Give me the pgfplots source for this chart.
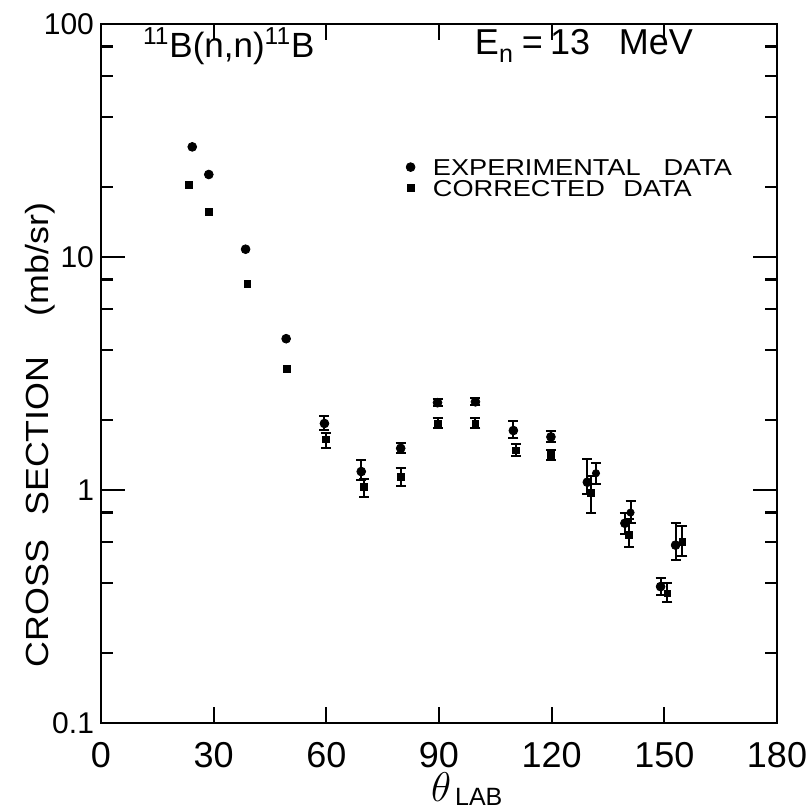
\documentclass[border=0pt]{standalone}
\usepackage{fontspec}
\setmainfont{Liberation Sans}
\newfontfamily\wide[FakeStretch=1.18]{Liberation Sans}
\newfontfamily\wideb[FakeStretch=1.12]{Liberation Sans}
\usepackage{pgfplots}
\usepackage{pgfplotstable}
\pgfplotsset{compat=1.18}

\pgfplotstableread{
x y
24.3 29.7
28.7 22.6
38.5 10.8
49.3 4.46
}\expfwd
\pgfplotstableread{
x y
23.5 20.4
28.8 15.6
39.0 7.66
49.5 3.32
}\corfwd
\pgfplotstableread{
x y ep em
59.5 1.93 0.15 0.12
69.3 1.20 0.15 0.10
79.8 1.51 0.08 0.07
89.6 2.37 0.10 0.08
99.7 2.39 0.10 0.08
109.8 1.80 0.17 0.13
119.8 1.69 0.10 0.08
129.5 1.08 0.28 0.12
139.5 0.72 0.08 0.07
149.0 0.385 0.035 0.03
153.0 0.58 0.14 0.08
}\expbwd
\pgfplotstableread{
x y ep em
59.8 1.65 0.10 0.13
70.0 1.03 0.08 0.10
79.8 1.14 0.10 0.10
89.6 1.93 0.10 0.09
99.7 1.93 0.10 0.09
110.5 1.48 0.10 0.08
119.8 1.41 0.07 0.06
130.5 0.97 0.18 0.17
140.5 0.64 0.11 0.07
150.8 0.36 0.04 0.03
154.8 0.60 0.10 0.08
}\corbwd
\pgfplotstableread{
x y ep em
131.8 1.18 0.12 0.12
141.0 0.80 0.10 0.08
}\extra

\begin{document}
\begin{tikzpicture}
\useasboundingbox (0,0) rectangle (403.5pt,404.5pt);
\begin{axis}[
  at={(50.5pt,43pt)}, anchor=south west,
  scale only axis, width=338pt, height=349.5pt,
  xmin=0, xmax=180, ymode=log, ymin=0.1, ymax=100,
  xtick={0,30,...,180},
  ytick={0.1,1,10,100}, yticklabels={0.1,1,10,100},
  minor ytick={0.2,0.4,0.6,0.8,2,4,6,8,20,40,60,80},
  tick align=inside,
  axis line style={line width=1.3pt},
  every tick/.style={black, line width=1.1pt},
  xtick style={/pgfplots/major tick length=8pt},
  ytick style={/pgfplots/major tick length=12pt, /pgfplots/minor tick length=6pt},
  /pgf/number format/assume math mode=true,
  xticklabel style={font=\fontsize{18}{18}\selectfont, inner sep=0.5pt, yshift=-9pt},
  yticklabel style={font=\fontsize{15}{15}\selectfont},
  xlabel={$\theta$\hspace{2pt}\raisebox{-2pt}{\fontsize{12.5}{12.5}\selectfont LAB}},
  xlabel style={font=\fontsize{21}{21}\selectfont, inner sep=0pt, at={(axis description cs:0.541,-0.071)}, anchor=north},
  ylabel={\wideb CROSS\hspace{12pt}SECTION\hspace{20pt}(mb/sr)},
  ylabel style={font=\fontsize{16}{16}\selectfont, at={(axis description cs:-0.09,0.412)}, anchor=center},
  legend style={at={(rel axis cs:0.442,0.813)}, anchor=north west, draw=none, fill=none,
    font=\wide\fontsize{11.5}{11.5}\selectfont, row sep=2.5pt,
    nodes={inner sep=0pt, text height=8pt, text depth=0pt},
    /tikz/every odd column/.append style={column sep=9pt}},
  legend cell align=left,
  error bars/y dir=both, error bars/y explicit,
  error bars/error bar style={line width=1pt},
  error bars/error mark options={rotate=90, mark size=2.5pt, line width=1pt},
]
\addplot[only marks, mark=*, mark size=2.2pt, black, error bars/y dir=none] table[x=x,y=y] {\expfwd};
\addlegendentry{EXPERIMENTAL\hspace{1em}DATA}
\addplot[only marks, mark=square*, mark size=1.7pt, black, error bars/y dir=none] table[x=x,y=y] {\corfwd};
\addlegendentry{CORRECTED\hspace{0.8em}DATA}
\addplot[only marks, mark=*, mark size=2.2pt, black, forget plot] table[x=x,y=y,y error plus=ep,y error minus=em] {\expbwd};
\addplot[only marks, mark=square*, mark size=1.7pt, black, forget plot] table[x=x,y=y,y error plus=ep,y error minus=em] {\corbwd};
\addplot[only marks, mark=*, mark size=1.8pt, black, forget plot] table[x=x,y=y,y error plus=ep,y error minus=em] {\extra};
\node[font=\fontsize{17.5}{17.5}\selectfont] at (rel axis cs:0.189,0.9685) {\textsuperscript{11}B(n,n)\textsuperscript{11}B};
\node[font=\fontsize{18}{18}\selectfont] at (rel axis cs:0.7145,0.9685) {E\raisebox{-4pt}{\fontsize{12.5}{12.5}\selectfont n}\hspace{0.25em}=\hspace{0.2em}13\hspace{0.8em}MeV};
\end{axis}
\end{tikzpicture}
\end{document}
